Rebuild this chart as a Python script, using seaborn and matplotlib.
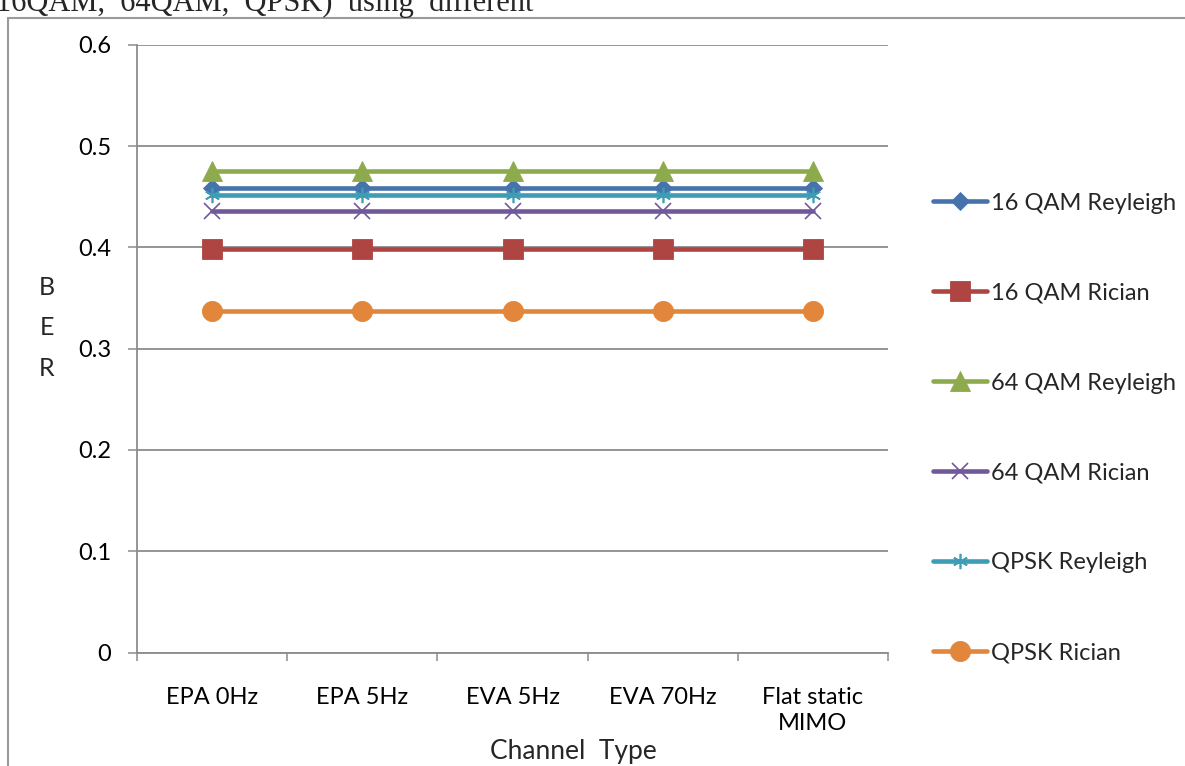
import matplotlib
matplotlib.use("Agg")
import matplotlib.pyplot as plt
from matplotlib.lines import Line2D
from matplotlib.ticker import FixedLocator, FixedFormatter
import numpy as np
import pandas as pd
import seaborn as sns

# Channel models on the x axis
channels = ["EPA 0Hz", "EPA 5Hz", "EVA 5Hz", "EVA 70Hz", "Flat static\nMIMO"]

# Bit error rate per modulation / fading combination
ber_16qam_rayleigh = [0.459, 0.459, 0.459, 0.459, 0.459]
ber_16qam_rician = [0.399, 0.399, 0.399, 0.399, 0.399]
ber_64qam_rayleigh = [0.476, 0.476, 0.476, 0.476, 0.476]
ber_64qam_rician = [0.436, 0.436, 0.436, 0.436, 0.436]
ber_qpsk_rayleigh = [0.452, 0.452, 0.452, 0.452, 0.452]
ber_qpsk_rician = [0.337, 0.337, 0.337, 0.337, 0.337]

series_names = ["16 QAM Reyleigh", "16 QAM Rician", "64 QAM Reyleigh",
                "64 QAM Rician", "QPSK Reyleigh", "QPSK Rician"]
series_values = [ber_16qam_rayleigh, ber_16qam_rician, ber_64qam_rayleigh,
                 ber_64qam_rician, ber_qpsk_rayleigh, ber_qpsk_rician]

y_ticks = [0, 0.1, 0.2, 0.3, 0.4, 0.5, 0.6]
y_tick_labels = ["0", "0.1", "0.2", "0.3", "0.4", "0.5", "0.6"]

sns.set_theme(style="white")
plt.rcParams["font.family"] = ["Lato", "DejaVu Sans"]

colors = ["#4673AC", "#AE4543", "#8DAB4C", "#71589A", "#3E9CB5", "#E2863B"]
styles = [
    dict(marker="D", markersize=9.5, mew=0.6),
    dict(marker="s", markersize=14, mew=0.6),
    dict(marker="^", markersize=14.5, mew=0.6),
    dict(marker="x", markersize=11, mew=1.2),
    dict(marker=(6, 2, 0), markersize=11, mew=1.2),
    dict(marker="o", markersize=14.5, mew=0.6),
]

df = pd.DataFrame({
    "channel": np.tile(channels, len(series_names)),
    "ber": np.concatenate(series_values),
    "series": np.repeat(series_names, len(channels)),
})

W, H = 1185, 766
fig = plt.figure(figsize=(W / 100, H / 100), dpi=100)
ax = fig.add_axes([137 / W, 1 - 652.5 / H, (888 - 137) / W, (652.5 - 45) / H])

grid_color = "#8C8C8C"
for name, col, st in zip(series_names, colors, styles):
    sub = df[df["series"] == name]
    sns.lineplot(data=sub, x="channel", y="ber", ax=ax, sort=False,
                 color=col, linewidth=3.3, mec=col, label=name,
                 solid_capstyle="round", zorder=3, **st)

ax.set_xlim(-0.5, len(channels) - 0.5)
ax.set_ylim(0, 0.6)
ax.set_xlabel("")
ax.set_ylabel("")

# y axis: gridlines and outward ticks
ax.yaxis.set_major_locator(FixedLocator(y_ticks))
ax.yaxis.set_major_formatter(FixedFormatter(y_tick_labels))
ax.yaxis.grid(True, color=grid_color, linewidth=1.3)
ax.xaxis.grid(False)
ax.tick_params(axis="y", which="major", direction="out", length=6.5, width=1.1,
               color=grid_color, pad=12, labelsize=17, labelcolor="black", left=True)

# x axis: category labels centred, tick marks on category boundaries
ax.set_xticks(range(len(channels)))
ax.set_xticklabels(channels, linespacing=1.3)
ax.set_xticks(np.arange(-0.5, len(channels)), minor=True)
ax.tick_params(axis="x", which="major", length=0, pad=25, labelsize=17, labelcolor="black")
ax.tick_params(axis="x", which="minor", direction="out", length=6, width=1.1,
               color=grid_color, bottom=True)

for side in ["top", "right"]:
    ax.spines[side].set_visible(False)
for side in ["left", "bottom"]:
    ax.spines[side].set_color(grid_color)
    ax.spines[side].set_linewidth(1.3)

# axis titles
fig.text(573 / W, 1 - 752 / H, "Channel  Type", ha="center", va="center", fontsize=19)
fig.text(47 / W, 1 - 328 / H, "B\nE\nR", ha="center", va="center", fontsize=18,
         linespacing=1.9)

# legend on the right
handles, labels = ax.get_legend_handles_labels()
if ax.legend_ is not None:
    ax.legend_.remove()
fig.legend(handles, labels, loc="center left", bbox_to_anchor=(933 / W, 1 - 428 / H),
           frameon=False, fontsize=17, handlelength=2.3, handletextpad=0.15,
           labelspacing=2.92, borderpad=0, borderaxespad=0)

# outer frame and the caption line above it
frame_col = "#9A9A9A"
fig.add_artist(Line2D([7.5 / W, 7.5 / W], [0, 1 - 18 / H], color=frame_col, linewidth=1.5,
                      transform=fig.transFigure))
fig.add_artist(Line2D([7.5 / W, 1.0], [1 - 18 / H, 1 - 18 / H], color=frame_col,
                      linewidth=1.5, transform=fig.transFigure))
fig.text(-4 / W, 1 - 11 / H, "16QAM,  64QAM,  QPSK)  using  different", ha="left",
         va="baseline", fontsize=22, family=["Liberation Serif", "DejaVu Serif"])

fig.savefig("out.png", dpi=100)
